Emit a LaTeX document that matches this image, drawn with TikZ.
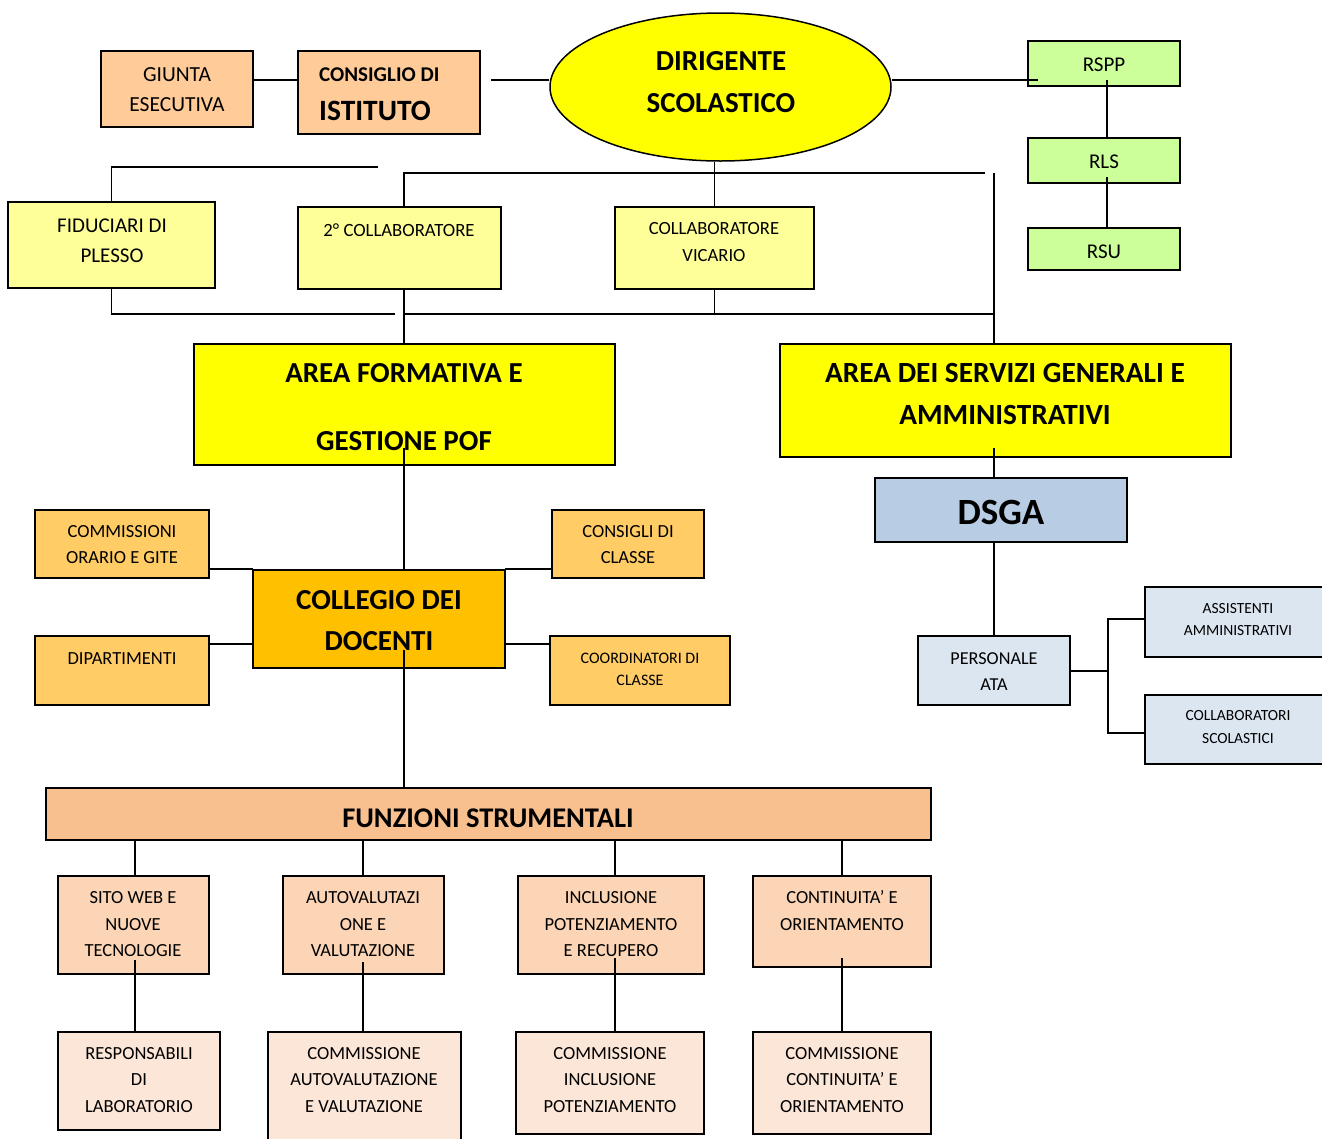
\documentclass[tikz,border=0pt]{standalone}
\usepackage{fontspec}
\setmainfont{Carlito}
\usetikzlibrary{shapes.geometric,calc}
\definecolor{peach}{HTML}{FFCC99}
\definecolor{ylw}{HTML}{FFFF00}
\definecolor{lgreen}{HTML}{CCFF99}
\definecolor{lyellow}{HTML}{FFFF99}
\definecolor{gold}{HTML}{FFC000}
\definecolor{lorange}{HTML}{FFCC66}
\definecolor{funzc}{HTML}{F8C08F}
\definecolor{childc}{HTML}{FBD5B5}
\definecolor{botc}{HTML}{FCE6D8}
\definecolor{blu}{HTML}{B8CCE4}
\definecolor{lblu}{HTML}{DCE6F1}
\newcommand\fsz[2]{\fontsize{#1}{#2}\selectfont}
\newcommand\bx[6]{\node[box,fill=#6,minimum width={(#4-#2)*1pt},minimum height={(#5-#3)*1pt}] (#1) at ({(#2+#4)/2},{(#3+#5)/2}) {};}
\tikzset{
  box/.style={draw=black,line width=1.8pt,inner sep=0pt,outer sep=0pt},
  conn/.style={draw=black,line width=1.5pt},
  txt/.style={align=center,inner sep=0pt,text=black}
}
\begin{document}
\begin{tikzpicture}[x=1pt,y=-1pt]
\useasboundingbox (0,0) rectangle (1322,1138);
\fill[white] (0,0) rectangle (1322,1138);
\clip (0,0) rectangle (1322,1138);
% boxes
\bx{giunta}{101}{51}{253}{127}{peach}
\bx{consiglio}{298}{51}{480}{134}{peach}
\node[ellipse,draw=black,line width=1.5pt,fill=ylw,minimum width=341pt,minimum height=148pt,inner sep=0pt] (dirig) at (720.5,87) {};
\bx{rspp}{1028}{41}{1180}{86}{lgreen}
\bx{rls}{1028}{138}{1180}{183}{lgreen}
\bx{rsu}{1028}{228}{1180}{270}{lgreen}
\bx{fid}{8}{202}{215}{288}{lyellow}
\bx{coll2}{298}{207}{501}{289}{lyellow}
\bx{vic}{615}{207}{814}{289}{lyellow}
\bx{areaF}{194}{344}{615}{465}{ylw}
\bx{areaS}{780}{344}{1231}{457}{ylw}
\bx{dsga}{875}{478}{1127}{542}{blu}
\bx{comm}{35}{510}{209}{578}{lorange}
\bx{consigli}{552}{510}{704}{578}{lorange}
\bx{collegio}{253}{570}{505}{668}{gold}
\bx{dip}{35}{636}{209}{705}{lorange}
\bx{coord}{550}{636}{730}{705}{lorange}
\bx{pers}{918}{636}{1070}{705}{lblu}
\bx{assist}{1145}{587}{1340}{657}{lblu}
\bx{collab}{1145}{695}{1340}{764}{lblu}
\bx{funz}{46}{788}{931}{840}{funzc}
\bx{sito}{58}{876}{209}{974}{childc}
\bx{auto}{283}{876}{444}{974}{childc}
\bx{incl}{518}{876}{704}{974}{childc}
\bx{cont}{753}{876}{931}{967}{childc}
\bx{resp}{58}{1032}{220}{1130}{botc}
\bx{cauto}{268}{1032}{461}{1160}{botc}
\bx{cincl}{516}{1032}{704}{1134}{botc}
\bx{ccont}{753}{1032}{931}{1134}{botc}
% texts
\node[txt,font=\fsz{21.5}{30}] (giuntaT) at (177,90) {GIUNTA\\ESECUTIVA};
\node[txt,font=\fsz{21}{30}\bfseries,anchor=base west] (consT1) at (319,81.5) {CONSIGLIO DI};
\node[txt,font=\fsz{29.5}{30}\bfseries,anchor=base west] (consT2) at (319,120.5) {ISTITUTO};
\node[txt,font=\fsz{29}{42}\bfseries] (dirigT) at (721,82) {DIRIGENTE\\SCOLASTICO};
\node[txt,font=\fsz{21}{26}] (rsppT) at (1104,65) {RSPP};
\node[txt,font=\fsz{21}{26}] (rlsT) at (1104,162) {RLS};
\node[txt,font=\fsz{21}{26}] (rsuT) at (1104,252) {RSU};
\node[txt,font=\fsz{21}{30}] (fidT) at (112,241) {FIDUCIARI DI\\PLESSO};
\node[txt,font=\fsz{18.7}{27}] (coll2T) at (399,230) {2° COLLABORATORE};
\node[txt,font=\fsz{18.6}{27}] (vicT) at (714,242.5) {COLLABORATORE\\VICARIO};
\node[txt,font=\fsz{29}{68}\bfseries] (areaFT) at (404,407) {AREA FORMATIVA E\\GESTIONE POF};
\node[txt,font=\fsz{29.3}{42}\bfseries] (areaST) at (1005,394) {AREA DEI SERVIZI GENERALI E\\AMMINISTRATIVI};
\node[txt,font=\fsz{37}{40}\bfseries] (dsgaT) at (1001,512) {DSGA};
\node[txt,font=\fsz{18.5}{26}] (commT) at (122,545) {COMMISSIONI\\ORARIO E GITE};
\node[txt,font=\fsz{18.5}{26}] (consigliT) at (628,545) {CONSIGLI DI\\CLASSE};
\node[txt,font=\fsz{29}{41}\bfseries] (collegioT) at (379,620.5) {COLLEGIO DEI\\DOCENTI};
\node[txt,font=\fsz{18.5}{26}] (dipT) at (122,659) {DIPARTIMENTI};
\node[txt,font=\fsz{16}{22}] (coordT) at (640,669) {COORDINATORI DI\\CLASSE};
\node[txt,font=\fsz{18.2}{26}] (persT) at (994,672) {PERSONALE\\ATA};
\node[txt,font=\fsz{15.5}{22}] (assistT) at (1238,620) {ASSISTENTI\\AMMINISTRATIVI};
\node[txt,font=\fsz{15.5}{23}] (collabT) at (1238,727.5) {COLLABORATORI\\SCOLASTICI};
\node[txt,font=\fsz{28.5}{30}\bfseries] (funzT) at (488,818) {FUNZIONI STRUMENTALI};
\node[txt,font=\fsz{18.5}{26.5}] (sitoT) at (133,924.5) {SITO WEB E\\NUOVE\\TECNOLOGIE};
\node[txt,font=\fsz{18.5}{26.5}] (autoT) at (363,924.5) {AUTOVALUTAZI\\ONE E\\VALUTAZIONE};
\node[txt,font=\fsz{18.5}{26.5}] (inclT) at (611,924.5) {INCLUSIONE\\POTENZIAMENTO\\E RECUPERO};
\node[txt,font=\fsz{18.5}{27}] (contT) at (842,911) {CONTINUITA’ E\\ORIENTAMENTO};
\node[txt,font=\fsz{18.5}{26.5}] (respT) at (139,1080) {RESPONSABILI\\DI\\LABORATORIO};
\node[txt,font=\fsz{18.5}{26.5}] (cautoT) at (364,1080) {COMMISSIONE\\AUTOVALUTAZIONE\\E VALUTAZIONE};
\node[txt,font=\fsz{18.5}{26.5}] (cinclT) at (610,1080) {COMMISSIONE\\INCLUSIONE\\POTENZIAMENTO};
\node[txt,font=\fsz{18.5}{26.5}] (ccontT) at (842,1080) {COMMISSIONE\\CONTINUITA’ E\\ORIENTAMENTO};
% helper coordinates
\coordinate (y80) at (0,80);
\coordinate (ci) at (491,80);
\coordinate (rsppIn) at (1038,80);
\coordinate (rsppC) at (1107,80);
\coordinate (rlsC) at (1107,177);
\coordinate (tl) at (378,167);
\coordinate (tr) at (985,173);
\coordinate (x404) at (404,0);
\coordinate (bl) at (395,314);
\coordinate (mb) at (404,314);
\coordinate (x994) at (994,0);
\coordinate (rt) at (994,173);
\coordinate (afIn) at (404,448);
\coordinate (y569) at (0,569);
\coordinate (y644) at (0,644);
\coordinate (colIn) at (404,650);
\coordinate (s1) at (135,960);
\coordinate (s2) at (363,962);
\coordinate (s3) at (615,958);
\coordinate (s4) at (842,958);
\coordinate (asIn) at (994,448);
\coordinate (br) at (1108,671);
\coordinate (bt) at (1108,619);
\coordinate (bb) at (1108,733);
% connectors
\draw[conn] (giunta.east |- y80) -- (consiglio.west |- y80);
\draw[conn] (ci) -- (dirig.west |- y80);
\draw[conn] (dirig.east |- y80) -- (rsppIn);
\draw[conn] (rsppC) -- (rls.north -| rsppC);
\draw[conn] (rlsC) -- (rsu.north -| rlsC);
\draw[conn] (tl) -| (fid.north);
\draw[conn] (tr) -| (coll2.north -| x404);
\draw[conn] (vic.north |- dirig.south) -- (vic.north);
\draw[conn] (fid.south) |- (bl);
\draw[conn] (coll2.south -| x404) -- (areaF.north -| x404);
\draw[conn] (mb) -- (mb -| x994);
\draw[conn] (vic.south) -- (vic.south |- mb);
\draw[conn] (rt) -- (areaS.north -| rt);
\draw[conn] (afIn) -- (collegio.north -| afIn);
\draw[conn] (comm.east |- y569) -- (collegio.west |- y569);
\draw[conn] (collegio.east |- y569) -- (consigli.west |- y569);
\draw[conn] (dip.east |- y644) -- (collegio.west |- y644);
\draw[conn] (collegio.east |- y644) -- (coord.west |- y644);
\draw[conn] (colIn) -- (funz.north -| colIn);
\draw[conn] (funz.south -| s1) -- (sito.north -| s1);
\draw[conn] (funz.south -| s2) -- (auto.north -| s2);
\draw[conn] (funz.south -| s3) -- (incl.north -| s3);
\draw[conn] (funz.south -| s4) -- (cont.north -| s4);
\draw[conn] (s1) -- (resp.north -| s1);
\draw[conn] (s2) -- (cauto.north -| s2);
\draw[conn] (s3) -- (cincl.north -| s3);
\draw[conn] (s4) -- (ccont.north -| s4);
\draw[conn] (asIn) -- (dsga.north -| asIn);
\draw[conn] (dsga.south -| asIn) -- (pers.north -| asIn);
\draw[conn] (pers.east |- br) -- (br);
\draw[conn] (assist.west |- bt) -- (bt) -- (bb) -- (collab.west |- bb);
\end{tikzpicture}
\end{document}
